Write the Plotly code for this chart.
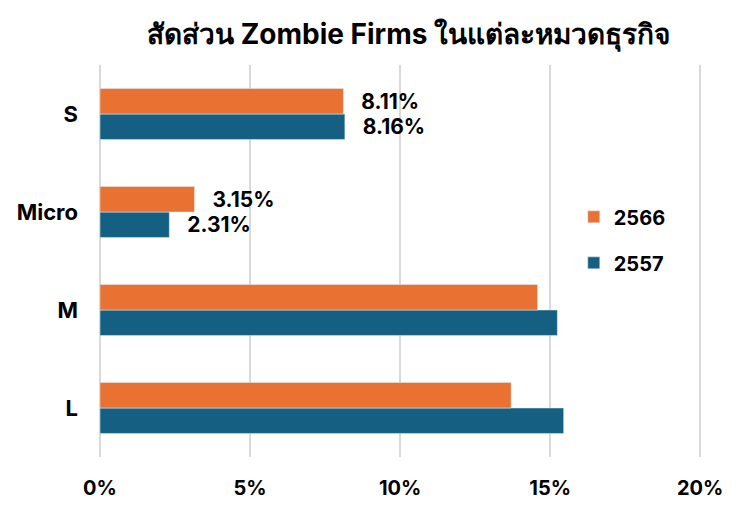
import plotly.graph_objects as go

categories = ["L", "M", "Micro", "S"]
values_2557 = [15.45, 15.24, 2.31, 8.16]
values_2566 = [13.70, 14.58, 3.15, 8.11]
labels_2557 = ["", "", "2.31%", "8.16%"]
labels_2566 = ["", "", "3.15%", "8.11%"]
x_ticks = [0, 5, 10, 15, 20]
x_tick_labels = ["0%", "5%", "10%", "15%", "20%"]

BLUE = "#156082"
ORANGE = "#E97132"
FONT = "Inter, Liberation Sans, Arial, sans-serif"

fig = go.Figure()
fig.add_trace(go.Bar(
    y=categories, x=values_2557, orientation="h", name="2557",
    marker=dict(color=BLUE), legendgroup="a", legendrank=2,
    text=["   " + t if t else "" for t in labels_2557],
    textposition="outside", cliponaxis=False,
    textfont=dict(family=FONT, size=21, color="#000000", weight="bold"),
))
fig.add_trace(go.Bar(
    y=categories, x=values_2566, orientation="h", name="2566",
    marker=dict(color=ORANGE), legendgroup="b", legendrank=1,
    text=["   " + t if t else "" for t in labels_2566],
    textposition="outside", cliponaxis=False,
    textfont=dict(family=FONT, size=21, color="#000000", weight="bold"),
))

fig.update_layout(
    width=735, height=497,
    margin=dict(l=92, r=41, t=57, b=48, autoexpand=False),
    paper_bgcolor="white", plot_bgcolor="white",
    barmode="group", bargap=0.48, bargroupgap=0,
    title=dict(
        text="สัดส่วน Zombie Firms ในแต่ละหมวดธุรกิจ",
        x=0.545, xanchor="center", y=0.948, yanchor="middle",
        font=dict(family=FONT, size=28, color="#000000", weight="bold"),
    ),
    legend=dict(
        x=0.787, y=0.554, xanchor="left", yanchor="middle",
        traceorder="grouped", tracegroupgap=17,
        font=dict(family=FONT, size=20, color="#000000", weight="bold"),
        bgcolor="rgba(0,0,0,0)",
    ),
)
fig.update_xaxes(
    range=[0, 20.06], tickvals=x_ticks, ticktext=x_tick_labels, automargin=False,
    showgrid=True, gridcolor="#d9d9d9", gridwidth=1.5,
    zeroline=True, zerolinecolor="#d9d9d9", zerolinewidth=1.5,
    showline=False, ticks="", ticklabelstandoff=17,
    tickfont=dict(family=FONT, size=20, color="#000000", weight="bold"),
)
fig.update_yaxes(
    categoryorder="array", categoryarray=categories, automargin=False,
    showgrid=False, showline=False, ticks="", ticklabelstandoff=21,
    tickfont=dict(family=FONT, size=22, color="#000000", weight="bold"),
)

fig.write_html("out.html")
